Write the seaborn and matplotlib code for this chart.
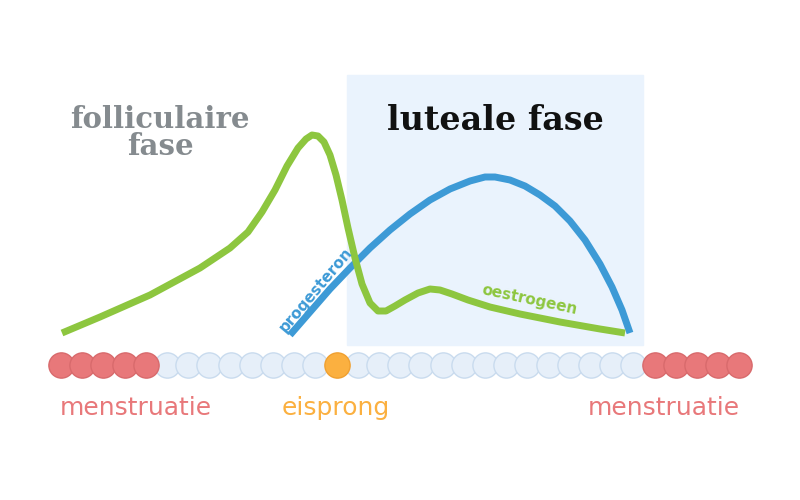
import numpy as np
import pandas as pd
import matplotlib.pyplot as plt
import seaborn as sns

# curves (pixel-like coords, y down)
green_x = [62, 100, 150, 200, 230, 248, 262, 275, 287, 298, 306, 312, 318, 324, 330, 336, 342, 348, 355, 362, 370, 378, 386, 395, 405, 418, 430, 440, 452, 468, 490, 520, 560, 600, 625]
green_y = [333, 317, 295, 268, 248, 232, 212, 190, 166, 148, 139, 135, 136, 142, 155, 175, 200, 228, 258, 284, 303, 311, 311, 306, 300, 293, 289, 290, 294, 300, 307, 314, 322, 329, 333]
blue_x = [290, 310, 330, 350, 370, 390, 410, 430, 450, 470, 485, 495, 510, 525, 540, 555, 570, 585, 600, 612, 622, 630]
blue_y = [335, 312, 289, 268, 248, 230, 214, 200, 189, 181, 177, 177, 180, 186, 195, 206, 221, 240, 264, 287, 310, 333]

# day dots: 33 days
day_kind = ["mens"] * 5 + ["day"] * 8 + ["ovul"] + ["day"] * 14 + ["mens"] * 5
dot_colors = {"mens": "#e8787a", "day": "#e6eff9", "ovul": "#fbb040"}
edge_colors = {"mens": "#d86a6c", "day": "#c9dbee", "ovul": "#f0a030"}

sns.set_style("white")
fig = plt.figure(figsize=(8, 5), dpi=100)
ax = fig.add_axes([0, 0, 1, 1])
ax.set_xlim(0, 800)
ax.set_ylim(500, 0)
ax.axis("off")

ax.add_patch(plt.Rectangle((347, 75), 296, 270, color="#eaf3fd", zorder=0))

dots = pd.DataFrame({"x": 61 + 21.2 * np.arange(len(day_kind)), "y": 365, "kind": day_kind})
for kind, grp in dots.groupby("kind"):
    sns.scatterplot(data=grp, x="x", y="y", s=330, color=dot_colors[kind],
                    edgecolor=edge_colors[kind], linewidth=1, ax=ax, zorder=3)

sns.lineplot(x=blue_x, y=blue_y, sort=False, color="#3d9ad6", lw=5, ax=ax, zorder=2,
             solid_joinstyle="round", solid_capstyle="butt")
sns.lineplot(x=green_x, y=green_y, sort=False, color="#8dc63f", lw=5, ax=ax, zorder=2,
             solid_joinstyle="round", solid_capstyle="butt")

serif = ["DejaVu Serif"]
ax.text(160, 133, "folliculaire\nfase", ha="center", va="center", fontsize=21,
        fontweight="bold", family=serif, color="#858b8f", linespacing=0.95)
ax.text(495, 120, "luteale fase", ha="center", va="center", fontsize=24,
        fontweight="bold", family=serif, color="#111111")
for x, label, c in [(136, "menstruatie", "#e8787a"), (336, "eisprong", "#fbb040"),
                    (664, "menstruatie", "#e8787a")]:
    ax.text(x, 408, label, ha="center", va="center", fontsize=18, color=c)
ax.text(316, 290, "progesteron", ha="center", va="center", fontsize=11,
        fontweight="bold", color="#3d9ad6", rotation=50)
ax.text(530, 300, "oestrogeen", ha="center", va="center", fontsize=11,
        fontweight="bold", color="#8dc63f", rotation=-12)

fig.savefig("out.png", dpi=100)
